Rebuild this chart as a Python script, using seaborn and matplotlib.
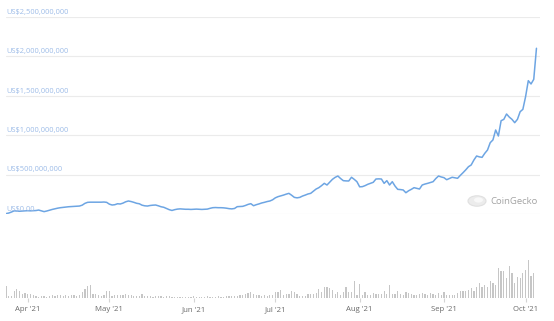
import numpy as np
import pandas as pd
import matplotlib
matplotlib.use("Agg")
import matplotlib.pyplot as plt
import matplotlib.transforms as mtransforms
from matplotlib.patches import Circle
import seaborn as sns

# ---------------- data ----------------
start_date = "2021-03-24"

# market cap in millions of USD, one value per day
price_musd = [
    5, 12, 25, 40, 38, 35, 38, 40, 42, 40,
    42, 44, 50, 40, 30, 38, 48, 58, 66, 74,
    80, 84, 88, 92, 94, 96, 98, 101, 112, 135,
    148, 150, 150, 151, 150, 150, 152, 148, 125, 114,
    118, 130, 127, 138, 155, 165, 158, 148, 136, 130,
    112, 104, 101, 108, 112, 114, 104, 92, 85, 70,
    55, 45, 55, 62, 65, 62, 60, 60, 58, 60,
    62, 60, 58, 60, 62, 72, 80, 82, 80, 80,
    78, 74, 68, 65, 70, 93, 95, 97, 108, 122,
    131, 105, 118, 128, 140, 148, 158, 165, 180, 205,
    220, 230, 240, 252, 262, 238, 211, 205, 211, 228,
    240, 254, 262, 290, 317, 334, 360, 389, 368, 405,
    440, 465, 482, 450, 423, 420, 419, 466, 440, 410,
    345, 347, 360, 377, 390, 402, 444, 446, 444, 389,
    423, 368, 410, 355, 313, 310, 305, 270, 295, 313,
    334, 325, 317, 368, 380, 389, 400, 410, 450, 482,
    470, 461, 435, 450, 466, 460, 453, 490, 524, 560,
    600, 622, 685, 736, 725, 719, 770, 812, 905, 940,
    1066, 990, 1184, 1201, 1269, 1230, 1201, 1159, 1201, 1298,
    1328, 1489, 1692, 1650, 1709, 2103,
]

# daily trading volume in millions of USD
volume_musd = [
    120, 20, 20, 70, 90, 70, 40, 50, 40, 40,
    30, 20, 10, 20, 20, 10, 20, 30, 20, 30,
    30, 20, 30, 20, 30, 30, 20, 30, 60, 90,
    120, 130, 40, 40, 30, 20, 30, 70, 70, 20,
    30, 30, 30, 30, 40, 30, 30, 20, 20, 20,
    40, 20, 20, 20, 10, 20, 20, 20, 10, 20,
    20, 10, 10, 10, 10, 10, 10, 10, 10, 20,
    10, 10, 10, 10, 20, 10, 10, 10, 20, 10,
    10, 20, 20, 20, 20, 20, 30, 30, 40, 50,
    60, 40, 30, 30, 20, 30, 20, 30, 30, 60,
    60, 80, 30, 40, 40, 70, 60, 40, 20, 20,
    20, 40, 40, 40, 50, 90, 60, 110, 110, 100,
    80, 40, 60, 30, 60, 110, 60, 60, 170, 30,
    140, 30, 60, 30, 30, 50, 40, 40, 40, 70,
    40, 130, 40, 40, 70, 40, 30, 60, 50, 40,
    30, 30, 40, 50, 40, 30, 50, 40, 30, 50,
    30, 60, 30, 30, 30, 30, 50, 70, 70, 70,
    80, 100, 70, 110, 150, 110, 130, 110, 170, 150,
    130, 300, 270, 270, 200, 320, 250, 150, 210, 200,
    250, 280, 380, 220, 250,
]

y_tick_values = [0, 500e6, 1000e6, 1500e6, 2000e6, 2500e6]
y_tick_labels = ["US$0.00", "US$500,000,000", "US$1,000,000,000",
                 "US$1,500,000,000", "US$2,000,000,000", "US$2,500,000,000"]

x_tick_dates = ["2021-04-01", "2021-05-01", "2021-06-01", "2021-07-01",
                "2021-08-01", "2021-09-01", "2021-10-01"]
x_tick_labels = ["Apr '21", "May '21", "Jun '21", "Jul '21",
                 "Aug '21", "Sep '21", "Oct '21"]

# ---------------- frames ----------------
dates = pd.date_range(start_date, periods=len(price_musd), freq="D")
price_df = pd.DataFrame({"date": dates, "market_cap": np.array(price_musd) * 1e6})
vol_df = pd.DataFrame({"date": dates[:len(volume_musd)],
                       "volume": np.array(volume_musd) * 1e6})

# ---------------- style ----------------
sns.set_theme(style="white")
plt.rcParams["font.family"] = ["Open Sans", "DejaVu Sans"]

W, H = 554, 321
fig = plt.figure(figsize=(W / 100, H / 100), dpi=100)
fig.patch.set_facecolor("white")

LEFT, RIGHT = 6, 540
x0 = pd.Timestamp(start_date)
x1 = x0 + pd.Timedelta(days=196.3)

# price panel
ax = fig.add_axes([LEFT / W, (H - 214) / H, (RIGHT - LEFT) / W, (214 - 17) / H])
for v in y_tick_values:
    ax.axhline(v, color="#ebebeb", lw=0.8, zorder=0)
sns.lineplot(data=price_df, x="date", y="market_cap", ax=ax,
             color="#6da5e3", linewidth=1.1, zorder=3)
ax.set_ylim(0, 2.5e9)
ax.set_xlim(x0, x1)
ax.set_xticks([])
ax.set_yticks([])
ax.set_xlabel("")
ax.set_ylabel("")
for s in ax.spines.values():
    s.set_visible(False)
ax.patch.set_alpha(0)

trans = mtransforms.blended_transform_factory(ax.transAxes, ax.transData)
trans = mtransforms.offset_copy(trans, fig=fig, x=0, y=1.2, units="dots")
for v, lab in zip(y_tick_values, y_tick_labels):
    ax.text(0, v, lab, transform=trans, ha="left", va="bottom",
            fontsize=5.4, color="#9dbce8", zorder=4)

# volume panel
ax2 = fig.add_axes([LEFT / W, (H - 298) / H, (RIGHT - LEFT) / W, 40 / H])
ax2.bar(vol_df["date"], vol_df["volume"], width=0.45, color="#c6c6c6",
        linewidth=0)
ax2.set_ylim(0, 400e6)
ax2.set_xlim(x0, x1)
ax2.set_yticks([])
ax2.set_xticks(pd.to_datetime(x_tick_dates))
ax2.set_xticklabels(x_tick_labels)
ax2.tick_params(axis="x", bottom=True, length=3, width=0.8, color="#d4d4d4",
                labelsize=5.6, labelcolor="#6b6b6b", pad=3)
ax2.set_xlabel("")
ax2.set_ylabel("")
for s in ax2.spines.values():
    s.set_visible(False)
ax2.patch.set_alpha(0)

# watermark
cx, cy, r = 477, 201, 9
logo = Circle((cx / W, 1 - cy / H), r / W, transform=fig.transFigure,
              facecolor="#ececec", edgecolor="#e0e0e0", lw=0.8, zorder=1)
fig.patches.append(logo)
logo2 = Circle(((cx + 1.5) / W, 1 - (cy - 1) / H), 4.5 / W, transform=fig.transFigure,
               facecolor="#f8f8f8", edgecolor="none", zorder=2)
fig.patches.append(logo2)
fig.text(490 / W, 1 - 201 / H, "CoinGecko", ha="left", va="center",
         fontsize=6.8, color="#a3a3a3")

fig.savefig("out.png", dpi=100, facecolor="white")
